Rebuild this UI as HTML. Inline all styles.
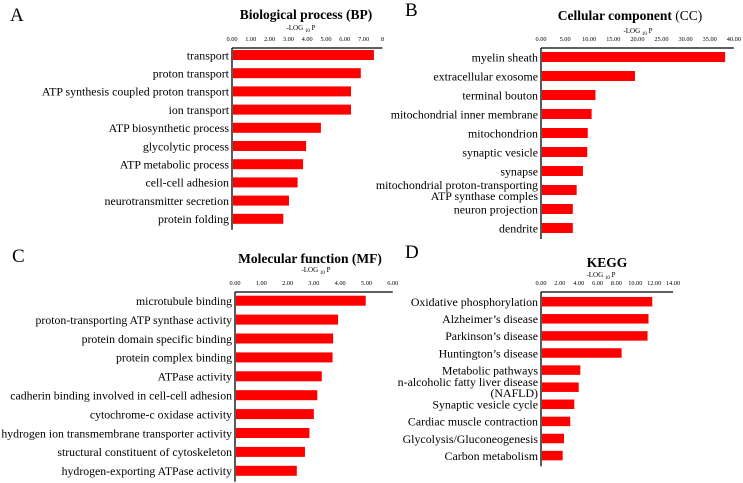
<!DOCTYPE html>
<html><head><meta charset="utf-8"><style>
html,body{margin:0;padding:0;background:#fff;}
svg{display:block;font-family:"Liberation Serif",serif;}
</style></head><body>
<svg id="chart" width="743" height="483" viewBox="0 0 743 483" xmlns="http://www.w3.org/2000/svg"></svg>
<script>
const catsA=["transport","proton transport","ATP synthesis coupled proton transport","ion transport","ATP  biosynthetic process","glycolytic process","ATP  metabolic process","cell-cell adhesion","neurotransmitter secretion","protein folding"];
const valsA=[7.55,6.85,6.33,6.33,4.73,3.94,3.78,3.49,3.03,2.73];
const ticksA=["0.00","1.00","2.00","3.00","4.00","5.00","6.00","7.00","8"];
const tickValsA=[0,1,2,3,4,5,6,7,8];

const catsB=["myelin sheath","extracellular exosome","terminal bouton","mitochondrial inner membrane","mitochondrion","synaptic vesicle","synapse","mitochondrial proton-transporting|ATP synthase comples","neuron projection","dendrite"];
const valsB=[38.2,19.5,11.3,10.5,9.7,9.6,8.7,7.4,6.6,6.6];
const ticksB=["0.00","5.00","10.00","15.00","20.00","25.00","30.00","35.00","40.00"];
const tickValsB=[0,5,10,15,20,25,30,35,40];

const catsC=["microtubule binding","proton-transporting ATP synthase activity","protein domain specific binding","protein complex binding","ATPase activity","cadherin binding involved in cell-cell adhesion","cytochrome-c oxidase activity","hydrogen ion transmembrane transporter activity","structural constituent of cytoskeleton","hydrogen-exporting ATPase activity"];
const valsC=[4.97,3.92,3.73,3.71,3.3,3.13,3.0,2.83,2.66,2.35];
const ticksC=["0.00","1.00","2.00","3.00","4.00","5.00","6.00"];
const tickValsC=[0,1,2,3,4,5,6];

const catsD=["Oxidative phosphorylation","Alzheimer’s disease","Parkinson’s disease","Huntington’s disease","Metabolic pathways","n-alcoholic fatty liver disease|(NAFLD)","Synaptic vesicle cycle","Cardiac muscle contraction","Glycolysis/Gluconeogenesis","Carbon metabolism"];
const valsD=[11.8,11.4,11.3,8.55,4.17,4.0,3.53,3.1,2.44,2.3];
const ticksD=["0.00","2.00","4.00","6.00","8.00","10.00","12.00","14.00"];
const tickValsD=[0,2,4,6,8,10,12,14];

const NS="http://www.w3.org/2000/svg";
const svg=document.getElementById("chart");
function mk(tag,attrs,parent){const e=document.createElementNS(NS,tag);for(const k in attrs)e.setAttribute(k,attrs[k]);(parent||svg).appendChild(e);return e;}

function panel(p,cats,vals,ticks,tickVals){
  const g=mk("g",{});
  
  
  const x=v=>p.x0+(v-p.min)*p.scale;
  const y=i=>p.yTop+i*p.step;
  const L=mk("text",{x:p.lx,y:p.ly,"font-size":19},g);L.textContent=p.letter;
  
  
  const t=mk("text",{x:p.tx,y:p.ty,"font-size":13.5,"font-weight":"bold","text-anchor":"middle"},g);
  
  
  t.innerHTML=p.title;
  const at=mk("text",{x:p.ax,y:p.ay,"font-size":7,"text-anchor":"middle"},g);
  
  
  at.innerHTML='-LOG <tspan font-size="5" dy="2">10</tspan><tspan dy="-2"> P</tspan>';
  tickVals.forEach((v,i)=>{
    const tk=mk("text",{x:x(v),y:p.axisY-7,"font-size":6.3,"text-anchor":"middle"},g);
    tk.textContent=ticks[i];
    
    
  });
  const hx=mk("line",{x1:p.x0,y1:p.axisY,x2:x(tickVals[tickVals.length-1]),y2:p.axisY,stroke:"#000","stroke-width":1.3},g);
  
  
  const vy=mk("line",{x1:p.x0,y1:p.axisY,x2:p.x0,y2:y(cats.length-1)+p.bh/2+6,stroke:"#000","stroke-width":1.3},g);
  
  
  cats.forEach((c,i)=>{
    const r=mk("rect",{x:p.x0+1,y:y(i)-p.bh/2,width:Math.max(0,x(vals[i])-p.x0-1),height:p.bh,fill:"#ff0000"},g);
    
    
    const parts=c.split("|");
    const lab=mk("text",{x:p.x0-3,y:0,"font-size":p.fs,"text-anchor":"end"},g);
    
    
    parts.forEach((s,j)=>{
      const ts=mk("tspan",{x:p.x0-3,y:y(i)+4.3+(j-(parts.length-1)/2)*11},lab);
      ts.textContent=s;
    });
  });
}

panel({key:"bp",letter:"A",lx:10,ly:21,title:"Biological process (BP)",tx:306,ty:19,ax:301,ay:30,x0:232,min:0,scale:18.8,axisY:48,yTop:55,step:18.2,bh:10,fs:11.9},catsA,valsA,ticksA,tickValsA);
panel({key:"cc",letter:"B",lx:405,ly:16,title:'Cellular component <tspan font-weight="normal">(CC)</tspan>',tx:630,ty:20,ax:638,ay:33,x0:541,min:0,scale:4.82,axisY:48,yTop:57,step:19,bh:10,fs:11.9},catsB,valsB,ticksB,tickValsB);
panel({key:"mf",letter:"C",lx:12,ly:262,title:"Molecular function (MF)",tx:310,ty:263,ax:316,ay:272,x0:235,min:0,scale:26.3,axisY:292,yTop:300.7,step:18.9,bh:10,fs:11.8},catsC,valsC,ticksC,tickValsC);
panel({key:"kegg",letter:"D",lx:405,ly:258,title:"KEGG",tx:607,ty:267,ax:601,ay:277,x0:541,min:0,scale:9.43,axisY:292,yTop:301.7,step:17.1,bh:9.5,fs:11.9},catsD,valsD,ticksD,tickValsD);
</script>
</body></html>
